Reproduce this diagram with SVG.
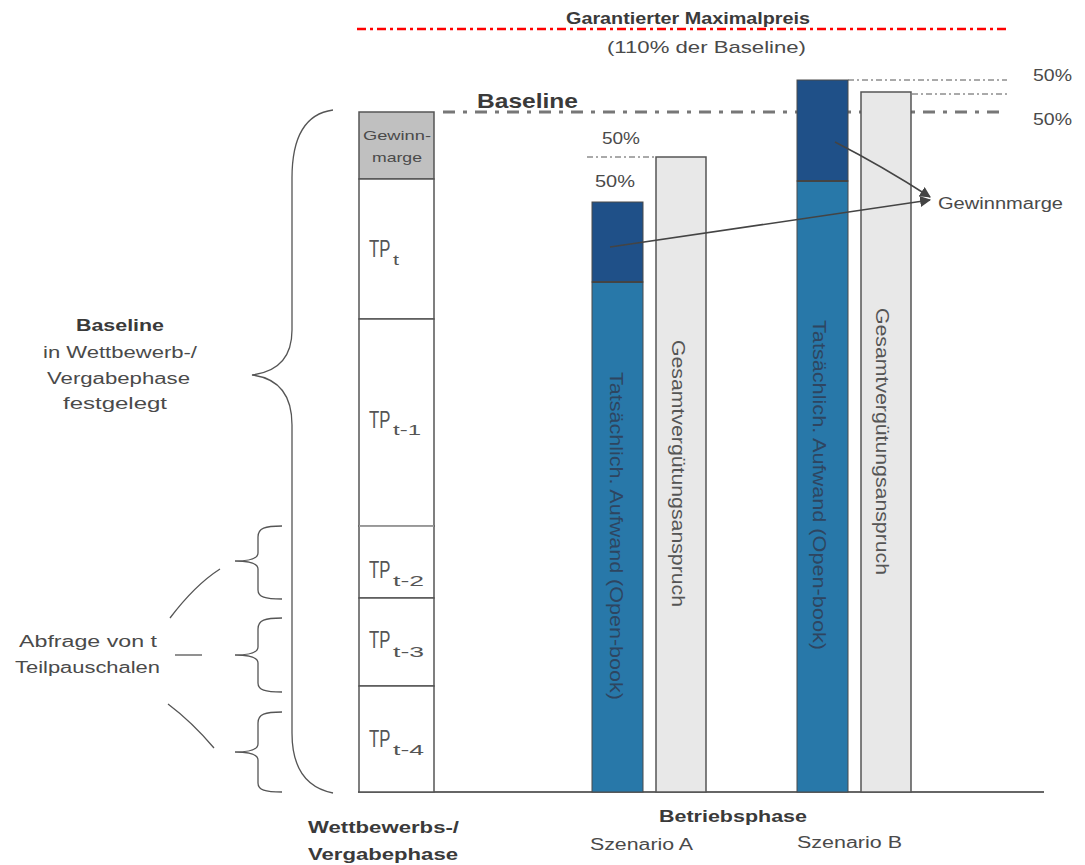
<svg xmlns="http://www.w3.org/2000/svg" width="1085" height="865" viewBox="0 0 1085 865">
<defs>
<style>
text{font-family:"Liberation Sans",Arial,sans-serif;fill:#4a4a4a}
.b{font-weight:bold;fill:#3a3a3a}
.f13{font-size:13px}.f16{font-size:16px}.f17{font-size:17px}.f18{font-size:18px}
.tp{font-size:24px;fill:#555}.sub{font-size:15px;fill:#555}
.brace{fill:none;stroke:#555;stroke-width:1.3}
.col{fill:#fff;stroke:#555;stroke-width:1.5}
.dk{fill:#1f5088;stroke:#4a4a4a;stroke-width:1}
.lt{fill:#2878a9;stroke:#4a4a4a;stroke-width:1}
.gr{fill:#e8e8e8;stroke:#555;stroke-width:1.5}
.thin{stroke:#555;stroke-width:1;stroke-dasharray:6 3 2 3;fill:none}
.arrow{fill:none;stroke:#444;stroke-width:1.5;marker-end:url(#ah)}
.rot-in{fill:#2e4560}
.rot-gr{fill:#555}
</style>
<marker id="ah" viewBox="0 0 10 10" refX="9" refY="5" markerWidth="11" markerHeight="11" markerUnits="userSpaceOnUse" orient="auto">
<path d="M0 0 L10 5 L0 10 Z" fill="#444"/>
</marker>
</defs>
<rect width="1085" height="865" fill="#fff"/>

<g id="reference-lines">
<line x1="357" y1="29" x2="1010" y2="29" stroke="#ff0000" stroke-width="2.5" stroke-dasharray="9 4 3 4"/>
<line x1="443" y1="112" x2="1007" y2="112" stroke="#777" stroke-width="3" stroke-dasharray="12 8 4 8"/>
<line class="thin" x1="587" y1="157" x2="656" y2="157"/>
<line class="thin" x1="848" y1="80" x2="1007" y2="80"/>
<line class="thin" x1="912" y1="94" x2="1007" y2="94"/>
</g>

<g id="axis">
<line x1="358" y1="792" x2="1044" y2="792" stroke="#666" stroke-width="2"/>
</g>

<g id="node-left-column">
<rect x="359" y="112" width="75" height="67" fill="#c0c0c0" stroke="#555" stroke-width="1.5"/>
<rect class="col" x="359" y="179" width="75" height="140"/>
<rect class="col" x="359" y="319" width="75" height="207"/>
<rect class="col" x="359" y="526" width="75" height="72"/>
<rect class="col" x="359" y="598" width="75" height="88"/>
<rect class="col" x="359" y="686" width="75" height="106"/>
<line x1="359" y1="526" x2="434" y2="526" stroke="#aaa" stroke-width="1.5"/>
<text class="f13" x="363" y="140" textLength="68" lengthAdjust="spacingAndGlyphs" fill="#555">Gewinn-</text>
<text class="f13" x="372" y="162" textLength="50" lengthAdjust="spacingAndGlyphs" fill="#555">marge</text>
<text class="tp" transform="translate(369,257) scale(0.7,1)">TP</text>
<text class="sub" x="393" y="265" textLength="6" lengthAdjust="spacingAndGlyphs">t</text>
<text class="tp" transform="translate(369,428) scale(0.7,1)">TP</text>
<text class="sub" x="393" y="435" textLength="28" lengthAdjust="spacingAndGlyphs">t-1</text>
<text class="tp" transform="translate(369,578) scale(0.7,1)">TP</text>
<text class="sub" x="393" y="586" textLength="31" lengthAdjust="spacingAndGlyphs">t-2</text>
<text class="tp" transform="translate(369,648) scale(0.7,1)">TP</text>
<text class="sub" x="393" y="657" textLength="31" lengthAdjust="spacingAndGlyphs">t-3</text>
<text class="tp" transform="translate(369,747) scale(0.7,1)">TP</text>
<text class="sub" x="393" y="755" textLength="31" lengthAdjust="spacingAndGlyphs">t-4</text>
</g>

<g id="node-braces">
<path class="brace" d="M333 110 C303 114 292 140 292 178 L292 330 C292 360 276 372 252 375 C276 378 292 392 292 425 L292 733 C292 770 308 788 333 793"/>
<path class="brace" d="M282 526 C265 526 258 528 258 537 L258 553 C258 558 250 561 235 561 C250 561 258 564 258 569 L258 590 C258 597 265 599 282 599"/>
<path class="brace" d="M282 618 C265 618 258 620 258 629 L258 647 C258 652 250 655 235 655 C250 655 258 658 258 663 L258 683 C258 690 265 692 282 692"/>
<path class="brace" d="M282 712 C265 712 258 714 258 723 L258 744 C258 749 250 752 235 752 C250 752 258 755 258 760 L258 783 C258 790 265 792 282 792"/>
<path class="brace" d="M170 618 Q195 585 220 569"/>
<line class="brace" x1="175" y1="655" x2="202" y2="655"/>
<path class="brace" d="M168 704 Q192 722 214 748"/>
</g>

<g id="node-scenario-a">
<rect class="lt" x="592" y="282" width="51" height="510"/>
<rect class="dk" x="592" y="202" width="51" height="80"/>
<line x1="592" y1="282" x2="643" y2="282" stroke="#444" stroke-width="2"/>
<rect class="gr" x="656" y="157" width="50" height="635"/>
<text class="f18 rot-in" transform="translate(610,372) rotate(90)" textLength="328" lengthAdjust="spacingAndGlyphs">Tatsächlich. Aufwand (Open-book)</text>
<text class="f18 rot-gr" transform="translate(672,340) rotate(90)" textLength="267" lengthAdjust="spacingAndGlyphs">Gesamtvergütungsanspruch</text>
</g>

<g id="node-scenario-b">
<rect class="lt" x="797" y="181" width="51" height="611"/>
<rect class="dk" x="797" y="80" width="51" height="101"/>
<line x1="797" y1="181" x2="848" y2="181" stroke="#444" stroke-width="2"/>
<rect class="gr" x="861" y="92" width="50" height="700"/>
<text class="f18 rot-in" transform="translate(813,320) rotate(90)" textLength="330" lengthAdjust="spacingAndGlyphs">Tatsächlich. Aufwand (Open-book)</text>
<text class="f18 rot-gr" transform="translate(876,308) rotate(90)" textLength="267" lengthAdjust="spacingAndGlyphs">Gesamtvergütungsanspruch</text>
</g>

<g id="connectors">
<path class="arrow" d="M610 247 L930 200"/>
<path class="arrow" d="M835 142 Q882 166 930 197"/>
</g>

<g id="labels">
<text class="b f17" x="566" y="24" textLength="244" lengthAdjust="spacingAndGlyphs">Garantierter Maximalpreis</text>
<text class="f17" x="607" y="53" textLength="199" lengthAdjust="spacingAndGlyphs">(110% der Baseline)</text>
<text class="b" x="477" y="108" style="font-size:21px" textLength="101" lengthAdjust="spacingAndGlyphs">Baseline</text>
<text class="f16" x="1033" y="81" textLength="39" lengthAdjust="spacingAndGlyphs">50%</text>
<text class="f16" x="1033" y="125" textLength="39" lengthAdjust="spacingAndGlyphs">50%</text>
<text class="f16" x="602" y="144" textLength="38" lengthAdjust="spacingAndGlyphs">50%</text>
<text class="f16" x="595" y="187" textLength="40" lengthAdjust="spacingAndGlyphs">50%</text>
<text class="f16" x="938" y="209" textLength="125" lengthAdjust="spacingAndGlyphs">Gewinnmarge</text>
<text class="b f16" x="76" y="331" textLength="88" lengthAdjust="spacingAndGlyphs">Baseline</text>
<text class="f16" x="43" y="358" textLength="154" lengthAdjust="spacingAndGlyphs">in Wettbewerb-/</text>
<text class="f16" x="47" y="384" textLength="143" lengthAdjust="spacingAndGlyphs">Vergabephase</text>
<text class="f16" x="63" y="409" textLength="104" lengthAdjust="spacingAndGlyphs">festgelegt</text>
<text class="f16" x="19" y="647" textLength="138" lengthAdjust="spacingAndGlyphs">Abfrage von  t</text>
<text class="f16" x="15" y="673" textLength="145" lengthAdjust="spacingAndGlyphs">Teilpauschalen</text>
<text class="b f17" x="308" y="833" textLength="151" lengthAdjust="spacingAndGlyphs">Wettbewerbs-/</text>
<text class="b f17" x="308" y="860" textLength="150" lengthAdjust="spacingAndGlyphs">Vergabephase</text>
<text class="b f17" x="659" y="822" textLength="148" lengthAdjust="spacingAndGlyphs">Betriebsphase</text>
<text class="f16" x="590" y="850" textLength="103" lengthAdjust="spacingAndGlyphs">Szenario A</text>
<text class="f16" x="797" y="848" textLength="105" lengthAdjust="spacingAndGlyphs">Szenario B</text>
</g>
</svg>
